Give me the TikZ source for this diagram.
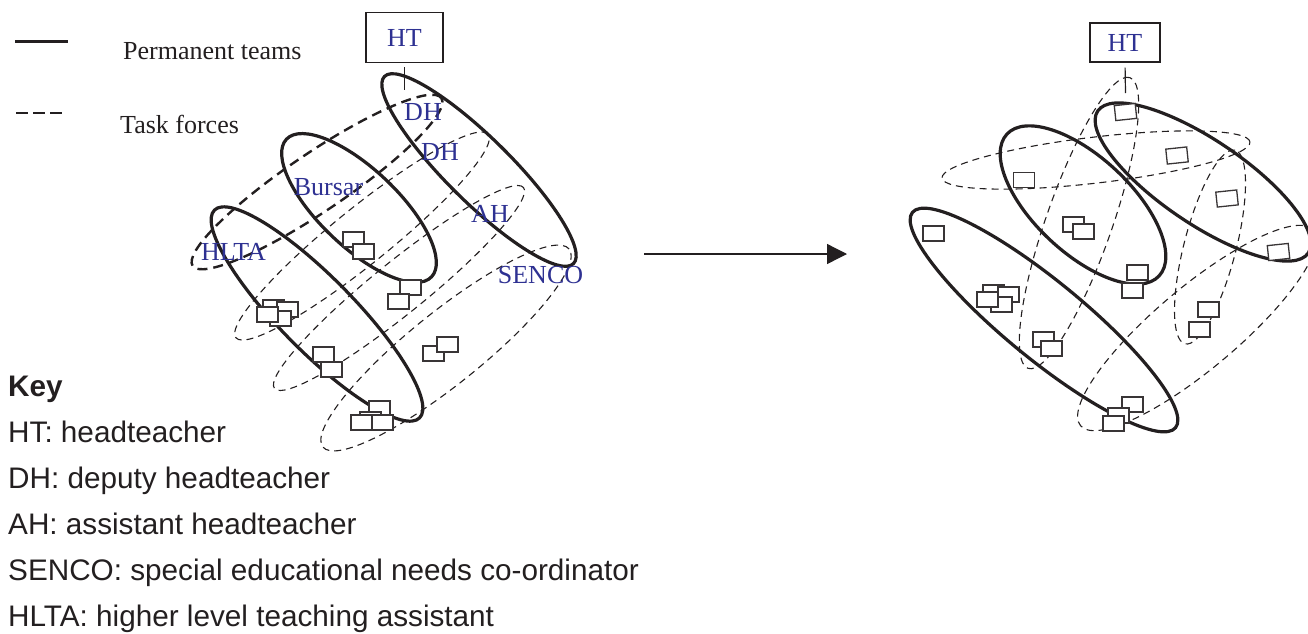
\documentclass[tikz,border=0pt]{standalone}
\usepackage{fontspec}
\setmainfont{Liberation Serif}
\newfontfamily\keyfont{Liberation Sans}
\usetikzlibrary{arrows.meta}
\definecolor{labelblue}{RGB}{46,49,146}
\definecolor{ink}{RGB}{35,31,32}

\begin{document}
\begin{tikzpicture}[x=1pt,y=-1pt,
  permteam/.style={line width=3.2pt, ink},
  taskforce/.style={line width=1.1pt, ink, dash pattern=on 7pt off 5pt},
  taskbold/.style={line width=2.4pt, ink, dash pattern=on 10pt off 6pt},
  member/.style={draw=ink!90, line width=1.3pt, fill=white, minimum width=21pt, minimum height=15pt, inner sep=0pt},
  role/.style={text=labelblue, font=\fontsize{26}{30}\selectfont, inner sep=0pt, anchor=base},
  headbox/.style={draw=ink, line width=1.2pt, text=labelblue, font=\fontsize{26}{30}\selectfont, inner sep=0pt},
  legendtext/.style={font=\fontsize{26}{30}\selectfont, text=ink, inner sep=0pt, anchor=base west},
  keytext/.style={font=\keyfont\fontsize{29.7}{35}\selectfont, text=ink, inner sep=0pt, anchor=base west},
]
\useasboundingbox (0,0) rectangle (1308,633);

% ---------------- legend ----------------
\coordinate (solidA) at (15,41);
\coordinate (solidB) at (68,41);
\draw[line width=3pt, ink] (solidA) -- (solidB);
\node[legendtext] (permtxt) at (123,59) {Permanent teams};
\coordinate (dashA) at (16,113);
\coordinate (dashB) at (62,113);
\draw[line width=2.6pt, ink, dash pattern=on 12pt off 5pt] (dashA) -- (dashB);
\node[legendtext] (tasktxt) at (120,133) {Task forces};

% ---------------- left structure ----------------
% task forces
\draw[taskbold, rotate around={34:(317,182)}] (317,182) ellipse [x radius=150pt, y radius=29pt];
\draw[taskforce, rotate around={38.9:(362,236)}] (362,236) ellipse [x radius=162pt, y radius=28pt];
\draw[taskforce, rotate around={38.9:(399,288)}] (399,288) ellipse [x radius=160pt, y radius=26pt];
\draw[taskforce, rotate around={38.8:(446,348)}] (446,348) ellipse [x radius=158pt, y radius=36pt];
% permanent teams
\draw[permteam, rotate around={-44.7:(479,170)}] (479,170) ellipse [x radius=133pt, y radius=32pt];
\draw[permteam, rotate around={-43.5:(359,208)}] (359,208) ellipse [x radius=100pt, y radius=39pt];
\draw[permteam, rotate around={-45.4:(317,314)}] (317,314) ellipse [x radius=146pt, y radius=37pt];

% head of the structure
\node[headbox, minimum width=77pt, minimum height=50pt] (htl) at (404.5,37.5) {HT};
\coordinate (htlEnd) at (404.5,90);
\draw[line width=1.2pt, ink, shorten <=4pt] (htl.south) -- (htlEnd);

% members
\node[member] (l1) at (353.5,239.5) {};
\node[member] (l2) at (363.5,251.5) {};
\node[member] (l3) at (410.5,287.5) {};
\node[member] (l4) at (398.5,301.5) {};
\node[member] (l5) at (273.5,307.5) {};
\node[member] (l6) at (287.5,309.5) {};
\node[member] (l7) at (280.5,318.5) {};
\node[member] (l8) at (267.5,314.5) {};
\node[member] (l9) at (323.5,354.5) {};
\node[member] (l10) at (331.5,369.5) {};
\node[member] (l11) at (433.5,353.5) {};
\node[member] (l12) at (447.5,344.5) {};
\node[member] (l13) at (379.5,408.5) {};
\node[member] (l14) at (370.5,419.5) {};
\node[member] (l15) at (382.5,422.5) {};
\node[member] (l16) at (361.5,422.5) {};

% roles
\node[role] (dh1) at (423,120) {DH};
\node[role] (dh2) at (440,160) {DH};
\node[role] (bursar) at (328.5,195) {Bursar};
\node[role] (ah) at (490,222) {AH};
\node[role] (senco) at (540.5,283) {SENCO};
\node[role] (hlta) at (233.5,260) {HLTA};

% ---------------- transition arrow ----------------
\coordinate (arrS) at (644,254);
\coordinate (arrE) at (847,254);
\draw[line width=1.3pt, ink, -{Triangle[length=20pt, width=20pt]}] (arrS) -- (arrE);

% ---------------- right structure ----------------
% task forces
\draw[taskforce, rotate around={6.7:(1096,160)}] (1096,160) ellipse [x radius=155pt, y radius=23pt];
\draw[taskforce, rotate around={70.7:(1079,223)}] (1079,223) ellipse [x radius=154pt, y radius=33pt];
\draw[taskforce, rotate around={75.5:(1210,247)}] (1210,247) ellipse [x radius=100pt, y radius=26pt];
\draw[taskforce, rotate around={40:(1197,328)}] (1197,328) ellipse [x radius=152pt, y radius=41pt];
% permanent teams
\draw[permteam, rotate around={-34:(1203,182)}] (1203,182) ellipse [x radius=127pt, y radius=42pt];
\draw[permteam, rotate around={-43:(1083,205)}] (1083,205) ellipse [x radius=104pt, y radius=48pt];
\draw[permteam, rotate around={-39.3:(1044,320)}] (1044,320) ellipse [x radius=170pt, y radius=39pt];

% head of the structure
\node[headbox, minimum width=70pt, minimum height=39pt] (htr) at (1125,42.5) {HT};
\coordinate (htrEnd) at (1125.5,93);
\draw[line width=1.2pt, ink, shorten <=5pt] (htr.south) -- (htrEnd);

% members
\node[member, rotate=6] (r1) at (1125.5,112) {};
\node[member, rotate=6] (r2) at (1177,155.5) {};
\node[member] (r3) at (1024,180) {};
\node[member, rotate=6] (r4) at (1227,198.5) {};
\node[member] (r5) at (1073.5,224.5) {};
\node[member] (r6) at (1083.5,231.5) {};
\node[member] (r7) at (933.5,233.5) {};
\node[member, rotate=6] (r8) at (1278.5,252) {};
\node[member] (r9) at (1137.5,272.5) {};
\node[member] (r10) at (1132.5,290.5) {};
\node[member] (r11) at (993.5,292.5) {};
\node[member] (r12) at (1008.5,294.5) {};
\node[member] (r13) at (1001.5,304.5) {};
\node[member] (r14) at (987.5,299.5) {};
\node[member] (r15) at (1043.5,339.5) {};
\node[member] (r16) at (1051.5,348.5) {};
\node[member] (r17) at (1208.5,309.5) {};
\node[member] (r18) at (1199.5,329.5) {};
\node[member] (r19) at (1132.5,404.5) {};
\node[member] (r20) at (1118.5,415.5) {};
\node[member] (r21) at (1113.5,423.5) {};

% ---------------- key ----------------
\node[keytext, font=\keyfont\bfseries\fontsize{29.7}{35}\selectfont] (keyhead) at (8,396) {Key};
\node[keytext] (key1) at (8,442) {HT: headteacher};
\node[keytext] (key2) at (8,488) {DH: deputy headteacher};
\node[keytext] (key3) at (8,534) {AH: assistant headteacher};
\node[keytext] (key4) at (8,580) {SENCO: special educational needs co-ordinator};
\node[keytext] (key5) at (8,626) {HLTA: higher level teaching assistant};
\end{tikzpicture}
\end{document}
